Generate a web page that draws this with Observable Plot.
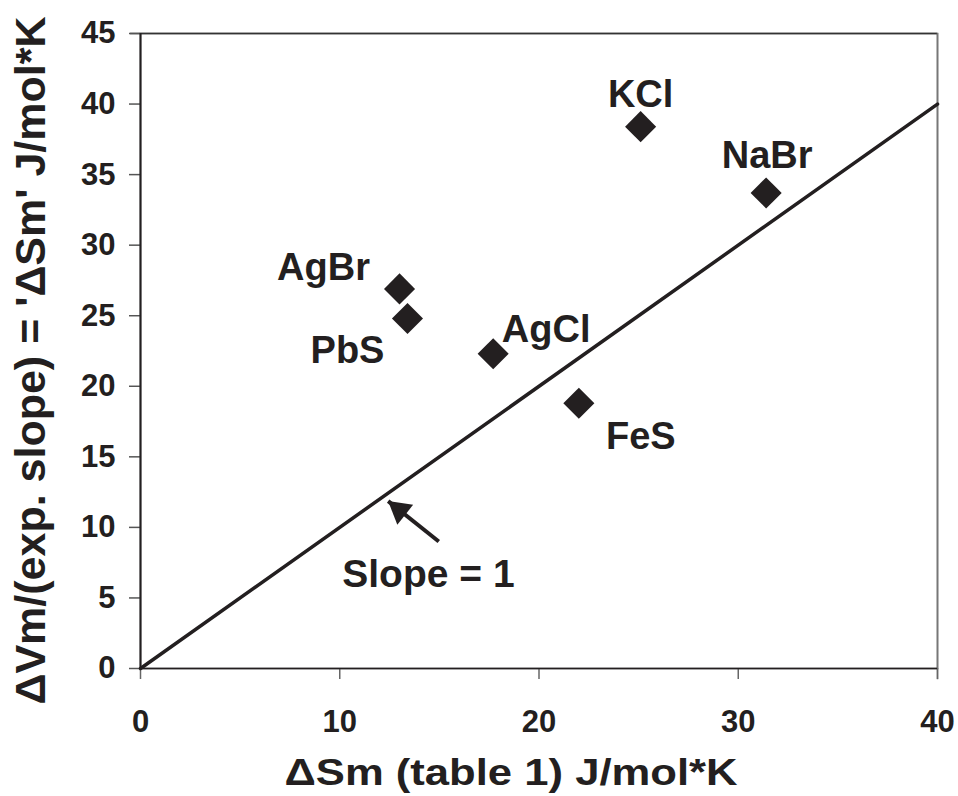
<!DOCTYPE html>
<html>
<head>
<meta charset="utf-8">
<script src="https://cdn.jsdelivr.net/npm/d3@7"></script>
<script src="https://cdn.jsdelivr.net/npm/@observablehq/plot@0.6"></script>
<style>
  html, body { margin: 0; padding: 0; background: #fff; }
  #chart { width: 958px; height: 796px; }
</style>
</head>
<body>
<div id="chart"></div>
<script>
// ---- data ----
const compounds = ["KCl", "NaBr", "AgBr", "PbS", "AgCl", "FeS"];
const dSmTable = [25.1, 31.4, 13.0, 13.4, 17.7, 22.0];
const dSmExp = [38.4, 33.7, 26.9, 24.8, 22.3, 18.8];
const xTicks = [0, 10, 20, 30, 40];
const yTicks = [0, 5, 10, 15, 20, 25, 30, 35, 40, 45];
const slopeLineX = [0, 40];
const slopeLineY = [0, 40];
const slopeLabel = ["Slope = 1"];
const slopeLabelX = [14.45];
const slopeLabelY = [6.66];
const arrowTail = [14.97, 9.0];
const arrowTip = [12.43, 11.86];
const xTitle = "ΔSm (table 1) J/mol*K";
const yTitle = "ΔVm/(exp. slope) = 'ΔSm' J/mol*K";

// ---- layout (separate from data) ----
const W = 958, H = 796;
const M = {top: 33, right: 21, bottom: 128, left: 140};
const ink = "#231f20";
const tickFont = 31;
const labelOffset = {
  KCl: [0, -32], NaBr: [1, -37], AgBr: [-76, -21],
  PbS: [-60, 32], AgCl: [53, -24], FeS: [62, 34]
};

const points = compounds.map((name, i) => ({name, x: dSmTable[i], y: dSmExp[i]}));
const line = slopeLineX.map((x, i) => ({x, y: slopeLineY[i]}));

// arrow head geometry in pixel space
const kx = (W - M.left - M.right) / 40, ky = (H - M.top - M.bottom) / 45;
const pdx = (arrowTip[0] - arrowTail[0]) * kx, pdy = -(arrowTip[1] - arrowTail[1]) * ky;
const plen = Math.hypot(pdx, pdy);
const ux = pdx / plen, uy = pdy / plen;
const headRot = Math.atan2(ux, -uy) * 180 / Math.PI;
const headBack = 14.5;

const plot = Plot.plot({
  width: W, height: H,
  marginTop: M.top, marginRight: M.right, marginBottom: M.bottom, marginLeft: M.left,
  style: {fontFamily: "'Liberation Sans', Arial, sans-serif", fontWeight: "bold", color: ink, background: "#fff"},
  x: {domain: [0, 40]},
  y: {domain: [0, 45]},
  marks: [
    Plot.frame({stroke: "#444", strokeWidth: 1.5}),
    Plot.ruleY([45], {x1: -0.5, x2: 40, stroke: "#333", strokeWidth: 1.5}),
    Plot.ruleX([40], {y1: -0.8, y2: 45, stroke: "#777", strokeWidth: 1.5}),
    Plot.axisX({ticks: xTicks, tickSize: 11, tickPadding: 30, fontSize: tickFont, stroke: "#666", strokeWidth: 1.5, fill: ink, label: null}),
    Plot.axisY({ticks: yTicks, tickSize: 11, tickPadding: 14, fontSize: tickFont, stroke: "#555", strokeWidth: 1.5, fill: ink, label: null}),
    Plot.ruleX([0], {stroke: ink, strokeWidth: 2}),
    Plot.ruleY([0], {stroke: ink, strokeWidth: 1.5}),
    Plot.line(line, {x: "x", y: "y", stroke: ink, strokeWidth: 3.5}),
    Plot.dot(points, {x: "x", y: "y", symbol: "diamond2", r: 14, fill: ink, stroke: "none"}),
    ...points.map(p => Plot.text([p], {
      x: "x", y: "y", text: "name",
      dx: labelOffset[p.name][0], dy: labelOffset[p.name][1],
      fontSize: 38, fill: ink, textAnchor: "middle", lineAnchor: "middle"
    })),
    Plot.text(slopeLabel, {x: slopeLabelX, y: slopeLabelY, text: d => d, fontSize: 39, fill: ink, textAnchor: "middle", lineAnchor: "middle"}),
    Plot.link([0], {
      x1: () => arrowTail[0], y1: () => arrowTail[1],
      x2: () => arrowTip[0], y2: () => arrowTip[1],
      stroke: ink, strokeWidth: 4
    }),
    Plot.dot([0], {
      x: () => arrowTip[0], y: () => arrowTip[1],
      symbol: "triangle", r: 9.4, fill: ink, stroke: "none",
      rotate: headRot, dx: -ux * headBack, dy: -uy * headBack
    }),
    Plot.text([xTitle], {frameAnchor: "bottom", text: d => d, dx: -28, dy: 105, fontSize: 37, fill: ink, textAnchor: "middle", lineAnchor: "middle"}),
    Plot.text([yTitle], {frameAnchor: "left", text: d => d, rotate: -90, dx: -109, dy: 9.5, fontSize: 43, fill: ink, textAnchor: "middle", lineAnchor: "middle"})
  ]
});

// stretch the x title horizontally as in the reference
plot.querySelectorAll("text").forEach(t => {
  if (t.textContent === xTitle) {
    t.setAttribute("textLength", 453);
    t.setAttribute("lengthAdjust", "spacingAndGlyphs");
  }
});

document.getElementById("chart").appendChild(plot);
</script>
</body>
</html>
